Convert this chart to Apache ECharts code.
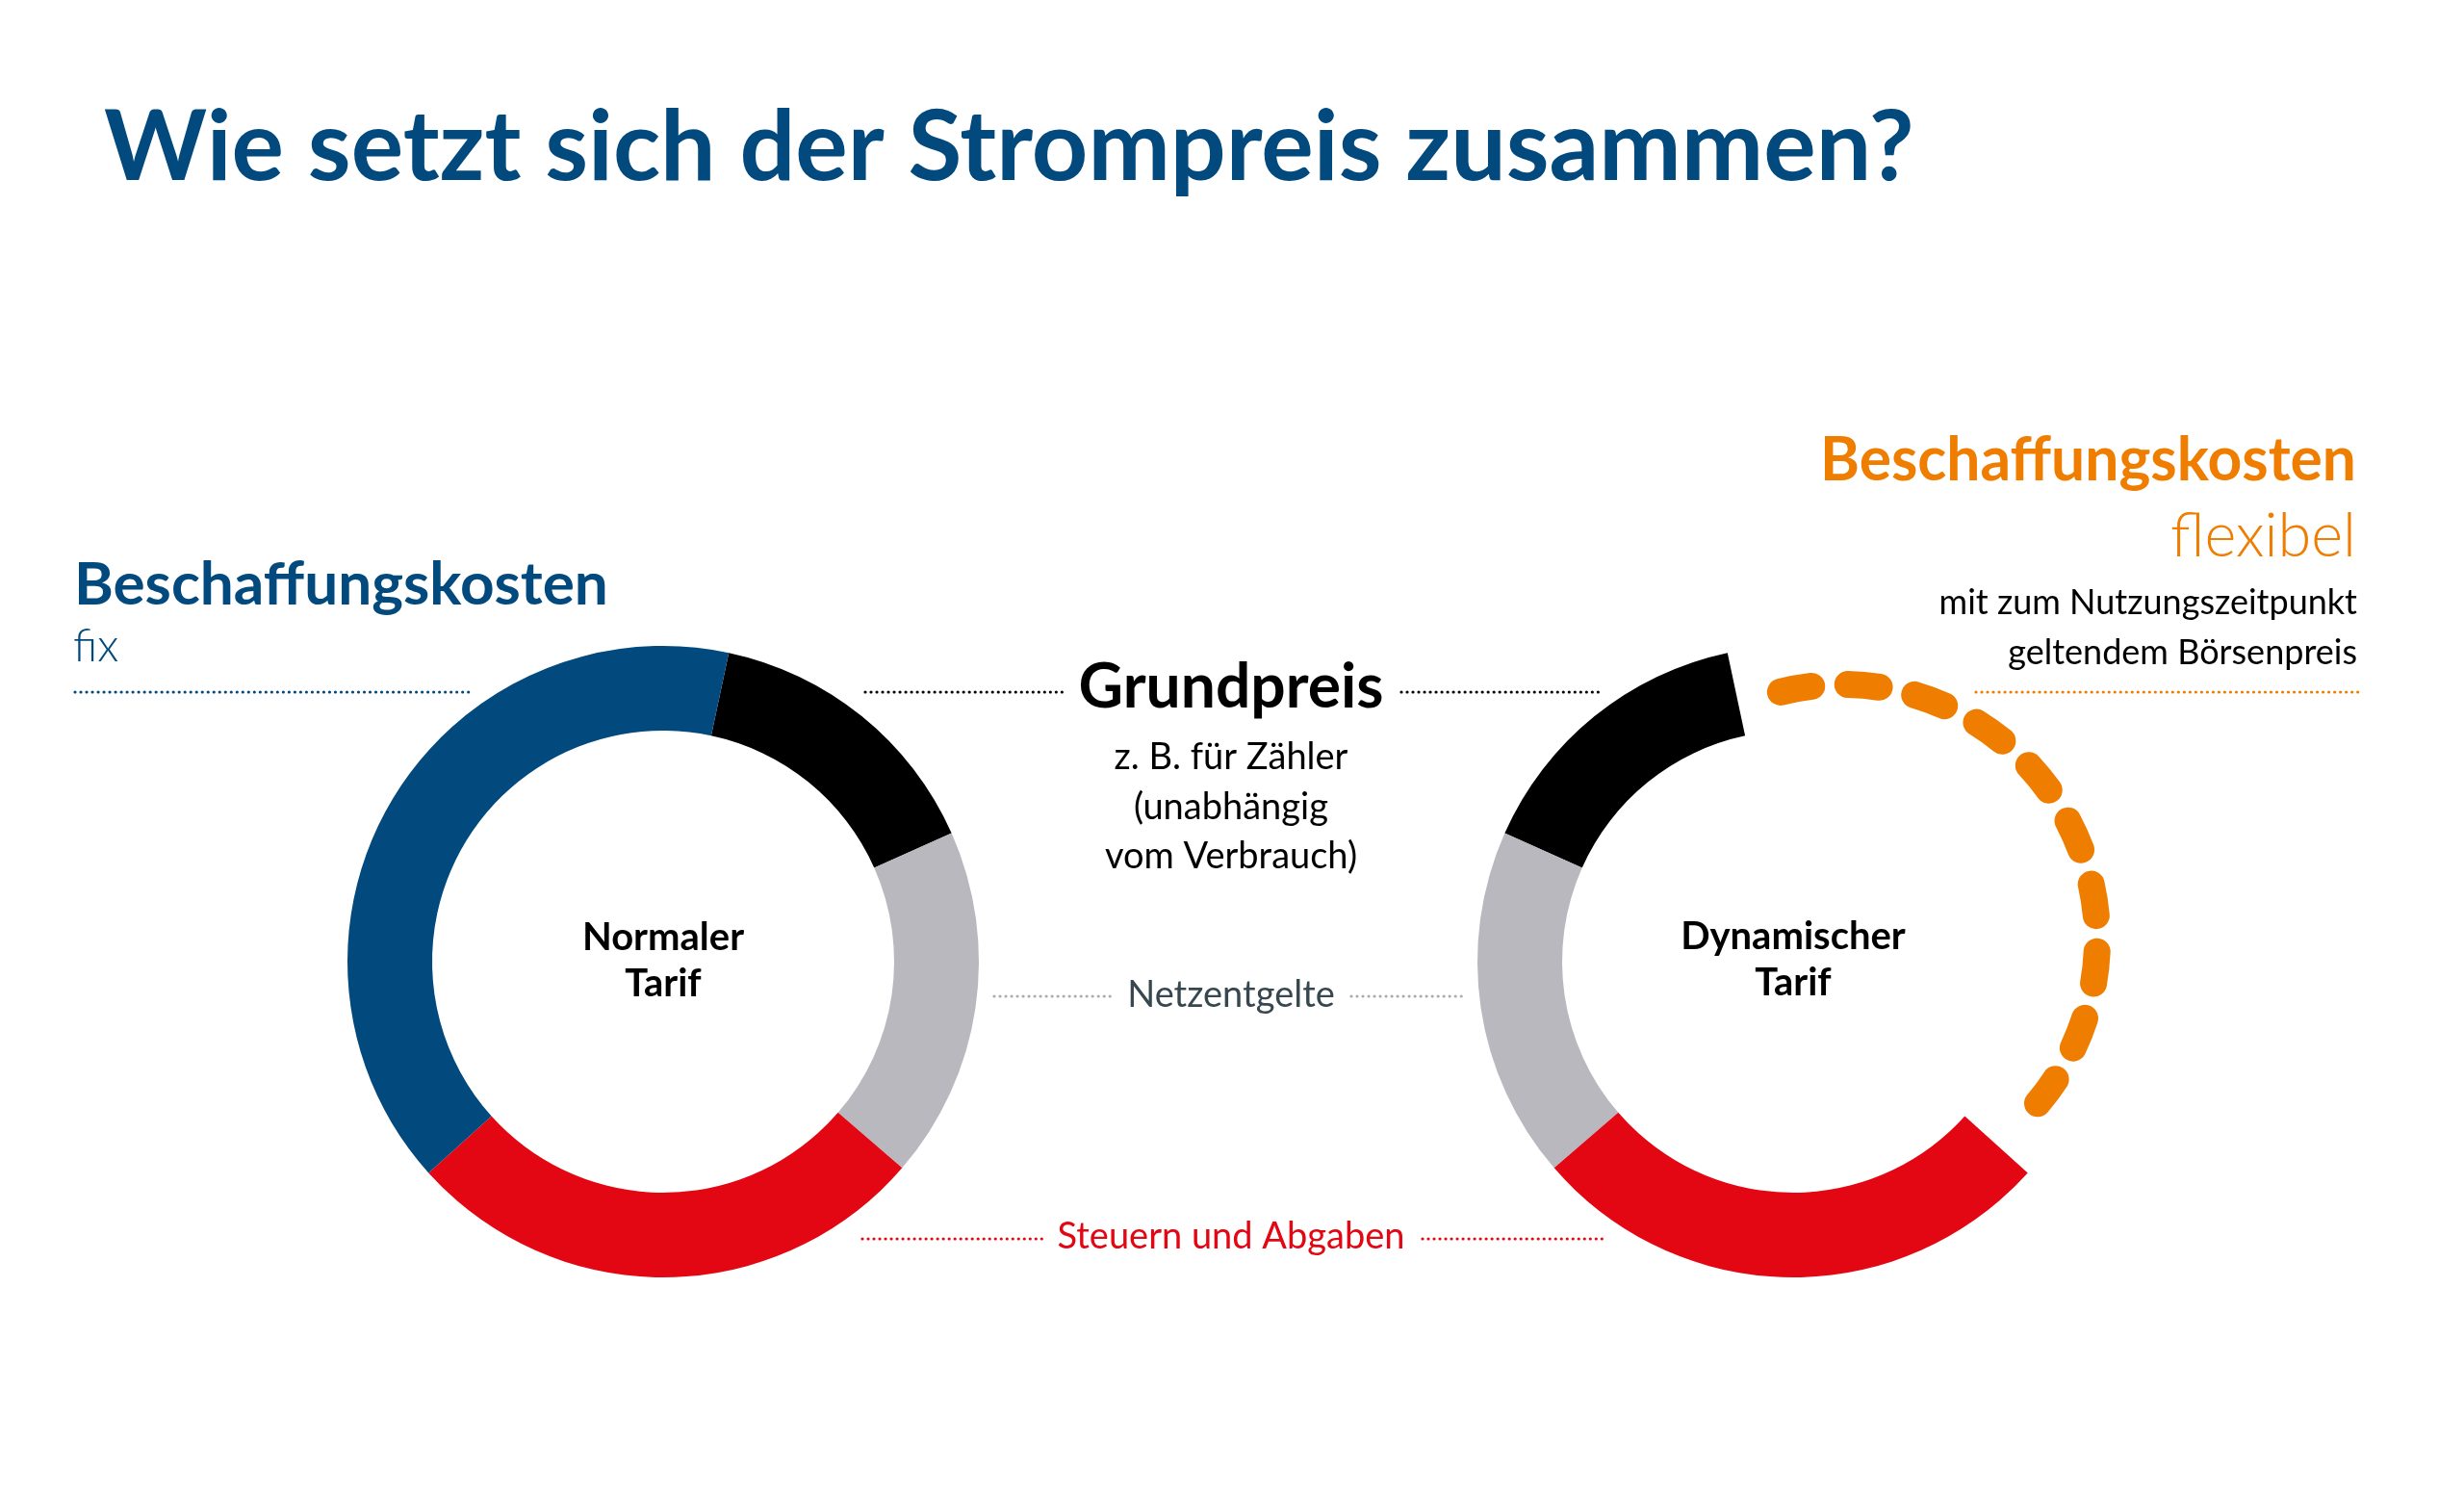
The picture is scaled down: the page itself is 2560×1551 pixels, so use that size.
<!DOCTYPE html>
<html>
<head>
<meta charset="utf-8">
<script src="https://cdn.jsdelivr.net/npm/echarts@6/dist/echarts.min.js"></script>
<style>
html,body{margin:0;padding:0;background:#fff;}
#chart{width:2560px;height:1551px;}
</style>
</head>
<body>
<div id="chart"></div>
<script>
// ---- data ----
const categories = ['Grundpreis', 'Netzentgelte', 'Steuern und Abgaben', 'Beschaffungskosten'];
const normalTariff = [15, 18, 27, 40];
const dynamicTariff = [15, 18, 27, 40];
const flexibleShare = [40];
const titleText = 'Wie setzt sich der Strompreis zusammen?';

// ---- styles ----
const BLUE = '#02497e', ORANGE = '#ef7d00', RED = '#e30613', GRAY = '#b9b8be', BLACK = '#000000', SLATE = '#37474f';
const sliceColors = [BLACK, GRAY, RED, BLUE];
const FONT = 'Lato';

const mctx = document.createElement('canvas').getContext('2d');
function fit(text, weight, target) {
  mctx.font = weight + ' 100px ' + FONT;
  return 100 * target / mctx.measureText(text).width;
}
function txt(text, x, baseline, size, weight, color, align) {
  return {
    type: 'text', x: x, y: baseline - 0.36 * size, silent: true,
    style: { text: text, fill: color, fontSize: size, fontWeight: weight, fontFamily: FONT,
             align: align || 'left', verticalAlign: 'middle' }
  };
}
function fitTxt(text, x, baseline, width, weight, color, align) {
  return txt(text, x, baseline, fit(text, weight, width), weight, color, align);
}
function dots(x1, x2, y, color) {
  return { type: 'line', silent: true, shape: { x1: x1, y1: y, x2: x2, y2: y },
           style: { stroke: color, lineWidth: 3.2, lineDash: [0.01, 6], lineCap: 'round' } };
}

const total = normalTariff.reduce((a, b) => a + b, 0);

const chart = echarts.init(document.getElementById('chart'), null, { renderer: 'canvas' });

const leftData = categories.map((c, i) => ({ name: c, value: normalTariff[i], itemStyle: { color: sliceColors[i] } }));
const rightData = categories.map((c, i) => ({ name: c, value: dynamicTariff[i],
  itemStyle: { color: i === 3 ? 'rgba(0,0,0,0)' : sliceColors[i] } }));

const pieBase = {
  type: 'pie', radius: [240, 328], silent: true, label: { show: false }, labelLine: { show: false },
  emphasis: { disabled: true }, avoidLabelOverlap: false, animation: false
};

const midX = 1279;
const graphics = [
  fitTxt('Beschaffungskosten', 77, 630, 555, 'bold', BLUE),
  txt('fix', 76, 689, 47, 300, BLUE),
  dots(78, 490, 719, BLUE),

  fitTxt('Grundpreis', midX, 737, 317, 'bold', BLACK, 'center'),
  dots(899, 1107, 719, BLACK),
  dots(1456, 1665, 719, BLACK),
  txt('z. B. für Zähler', midX, 800, 38, 400, BLACK, 'center'),
  txt('(unabhängig', midX, 852, 38, 400, BLACK, 'center'),
  txt('vom Verbrauch)', midX, 903, 38, 400, BLACK, 'center'),

  txt('Netzentgelte', midX, 1047, 38, 400, SLATE, 'center'),
  dots(1033, 1156, 1035, '#a9adb2'),
  dots(1404, 1519, 1035, '#a9adb2'),

  txt('Steuern und Abgaben', midX, 1298, 38, 400, RED, 'center'),
  dots(896, 1084, 1287, RED),
  dots(1478, 1665, 1287, RED),

  txt('Normaler', 689, 988, 40, 'bold', BLACK, 'center'),
  txt('Tarif', 689, 1036, 40, 'bold', BLACK, 'center'),
  txt('Dynamischer', 1863, 987, 40, 'bold', BLACK, 'center'),
  txt('Tarif', 1863, 1035, 40, 'bold', BLACK, 'center'),

  fitTxt('Beschaffungskosten', 2448, 501, 557, 'bold', ORANGE, 'right'),
  txt('flexibel', 2448, 580, 63, 300, ORANGE, 'right'),
  txt('mit zum Nutzungszeitpunkt', 2449, 639, 36, 400, BLACK, 'right'),
  txt('geltendem Börsenpreis', 2449, 691, 36, 400, BLACK, 'right'),
  dots(2053, 2450, 719, ORANGE)
];

const option = {
  backgroundColor: '#ffffff',
  animation: false,
  title: {
    text: titleText, left: 103, top: 98,
    textStyle: { fontFamily: FONT, fontWeight: 'bold', fontSize: 102, color: BLUE }
  },
  graphic: graphics,
  series: [
    Object.assign({}, pieBase, { name: 'Normaler Tarif', center: [689, 999], startAngle: 78, clockwise: true, data: leftData }),
    Object.assign({}, pieBase, { name: 'Dynamischer Tarif', center: [1863, 999], startAngle: 102, clockwise: false, data: rightData }),
    {
      type: 'custom', name: 'Beschaffungskosten flexibel', coordinateSystem: 'none', silent: true,
      data: flexibleShare.map(v => [v]),
      renderItem: function (params, api) {
        const span = api.value(0) / total * Math.PI * 2;
        const start = (-90 - 14) * Math.PI / 180;
        return {
          type: 'arc',
          shape: { cx: 1914, cy: 976, r: 265, startAngle: start, endAngle: start + span, clockwise: true },
          style: { stroke: ORANGE, fill: null, lineWidth: 28, lineDash: [33, 37.5], lineCap: 'round' }
        };
      }
    }
  ]
};
chart.setOption(option);
</script>
</body>
</html>
